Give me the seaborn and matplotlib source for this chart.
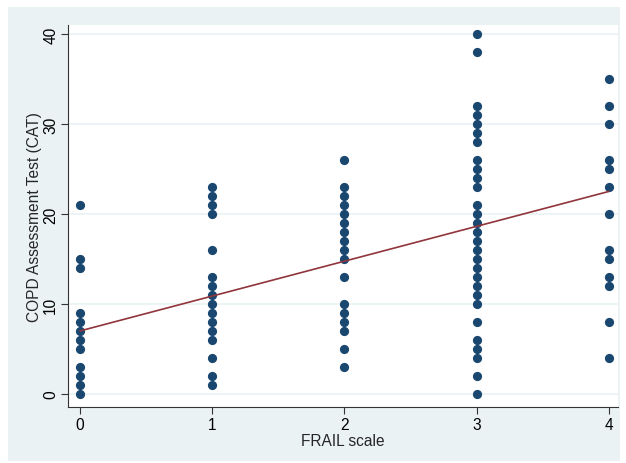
import numpy as np
import pandas as pd
import matplotlib
matplotlib.use("Agg")
import matplotlib.pyplot as plt
from matplotlib.patches import Rectangle
import seaborn as sns

# CAT scores, one list per FRAIL score
cat_frail0 = [21, 15, 14, 9, 8, 7, 6, 5, 3, 2, 1, 0]
cat_frail1 = [23, 22, 21, 20, 16, 13, 12, 11, 10, 9, 8, 7, 6, 4, 2, 1]
cat_frail2 = [26, 23, 22, 21, 20, 19, 18, 17, 16, 15, 13, 10, 9, 8, 7, 5, 3]
cat_frail3 = [40, 38, 32, 31, 30, 29, 28, 26, 25, 24, 23, 21, 20, 19, 18,
              17, 16, 15, 14, 13, 12, 11, 10, 8, 6, 5, 4, 2, 0]
cat_frail4 = [35, 32, 30, 26, 25, 23, 20, 16, 15, 13, 12, 8, 4]

frail_levels = [0, 1, 2, 3, 4]
groups = [cat_frail0, cat_frail1, cat_frail2, cat_frail3, cat_frail4]

# fitted line as shown in the chart (overlapping patients are hidden in the dots)
fit_frail = [0, 4]
fit_cat = [7.0, 22.5]

df = pd.DataFrame({
    "frail": np.concatenate([[f] * len(g) for f, g in zip(frail_levels, groups)]),
    "cat": np.concatenate(groups),
})
fit_df = pd.DataFrame({"frail": fit_frail, "cat": fit_cat})

navy = "#1a476f"
maroon = "#90353b"
region_bg = "#eaf2f3"

sns.set_style("white")
plt.rcParams["font.family"] = ["Liberation Sans", "DejaVu Sans"]

fig = plt.figure(figsize=(6.26, 4.64), dpi=100, facecolor="white")
fig.patches.append(Rectangle((8 / 626, 2 / 464), 612 / 626, 454 / 464,
                             transform=fig.transFigure, facecolor=region_bg,
                             edgecolor="none", zorder=-10))
ax = fig.add_axes([68 / 626, 56 / 464, 550 / 626, 382 / 464])
ax.set_facecolor("white")

for y in [0, 10, 20, 30, 40]:
    ax.axhline(y, color=region_bg, lw=1.2, zorder=0)

sns.scatterplot(data=df, x="frail", y="cat", ax=ax, s=44, color=navy,
                linewidth=0, alpha=1, zorder=3)
sns.lineplot(data=fit_df, x="frail", y="cat", ax=ax, color=maroon, lw=1.2,
             zorder=4)

ax.set_xlim(-0.09, 4.07)
ax.set_ylim(-1.45, 41)
ax.set_xticks(frail_levels)
ax.set_yticks([0, 10, 20, 30, 40])
ax.set_yticklabels(["0", "10", "20", "30", "40"], rotation=90, va="center")
ax.tick_params(axis="both", direction="out", length=5, width=0.8,
               color="#333333", labelsize=11.2, labelcolor="black", pad=2)
ax.tick_params(left=True, bottom=True)

for side in ["top", "right"]:
    ax.spines[side].set_visible(False)
for side in ["left", "bottom"]:
    ax.spines[side].set_color("#333333")
    ax.spines[side].set_linewidth(0.8)

ax.set_xlabel("FRAIL scale", fontsize=11.2, labelpad=1)
ax.set_ylabel("COPD Assessment Test (CAT)", fontsize=11.2, labelpad=1)

fig.savefig("out.png", dpi=100, facecolor=fig.get_facecolor())
